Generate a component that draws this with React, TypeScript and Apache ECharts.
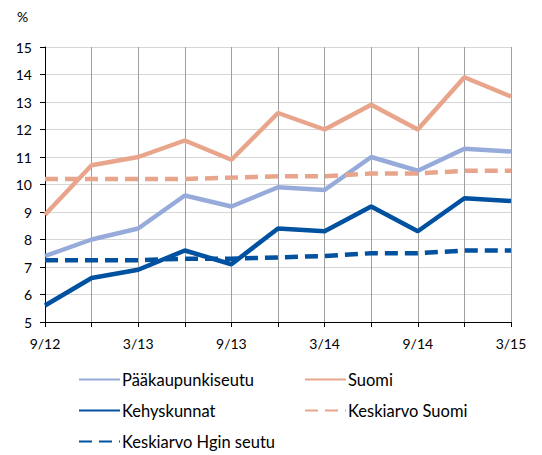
import React, { useEffect, useRef } from "react";
import * as echarts from "echarts";

const categories = ["9/12", "12/12", "3/13", "6/13", "9/13", "12/13", "3/14", "6/14", "9/14", "12/14", "3/15"];
const paakaupunkiseutu = [7.4, 8.0, 8.4, 9.6, 9.2, 9.9, 9.8, 11.0, 10.5, 11.3, 11.2];
const suomi = [8.9, 10.7, 11.0, 11.6, 10.9, 12.6, 12.0, 12.9, 12.0, 13.9, 13.2];
const kehyskunnat = [5.6, 6.6, 6.9, 7.6, 7.1, 8.4, 8.3, 9.2, 8.3, 9.5, 9.4];
const keskiarvoSuomi = [10.2, 10.2, 10.2, 10.2, 10.25, 10.3, 10.3, 10.4, 10.4, 10.5, 10.5];
const keskiarvoHgin = [7.25, 7.25, 7.25, 7.3, 7.3, 7.35, 7.4, 7.5, 7.5, 7.6, 7.6];

const LIGHT_BLUE = "#97abdb";
const SALMON = "#e8a58b";
const DARK_BLUE = "#0051a0";
const FONT = "Lato, 'Open Sans', sans-serif";

export default function App() {
  const ref = useRef<HTMLDivElement>(null);
  useEffect(() => {
    if (!ref.current) return;
    const chart = echarts.init(ref.current, undefined, { renderer: "svg" });
    const mk = (name: string, data: number[], color: string, dashed: boolean) => ({
      name,
      type: "line",
      data,
      showSymbol: false,
      symbol: "none",
      lineStyle: { color, width: 4.5, type: dashed ? [13, 7] : "solid", cap: "butt" },
      itemStyle: { color },
      z: 2,
    });
    const legendCommon = {
      orient: "vertical",
      top: 366,
      height: 95,
      itemWidth: 41,
      itemHeight: 14,
      itemGap: 14,
      itemStyle: { opacity: 0 },
      textStyle: { fontFamily: FONT, fontSize: 16.5, color: "#000", padding: [0, 0, 0, -3] },
    };
    chart.setOption({
      animation: false,
      textStyle: { fontFamily: FONT },
      grid: { left: 45, right: 31, top: 47, bottom: 133, containLabel: false },
      graphic: [
        { type: "text", left: 17, top: 9, style: { text: "%", font: `14px ${FONT}`, fill: "#000" } },
      ],
      legend: [
        { ...legendCommon, left: 73, data: ["Pääkaupunkiseutu", "Kehyskunnat", "Keskiarvo Hgin seutu"] },
        { ...legendCommon, left: 299, data: ["Suomi", "Keskiarvo Suomi"] },
      ],
      xAxis: {
        type: "category",
        data: categories,
        boundaryGap: false,
        axisLine: { show: true, lineStyle: { color: "#000", width: 1 } },
        axisTick: { show: true, interval: 0, length: 5, lineStyle: { color: "#000" } },
        axisLabel: { interval: 1, margin: 14, fontSize: 14, color: "#000", fontFamily: FONT },
        splitLine: { show: true, interval: 0, lineStyle: { color: "#a0a0a0", width: 1 } },
      },
      yAxis: {
        type: "value",
        min: 5,
        max: 15,
        interval: 1,
        axisLine: { show: true, lineStyle: { color: "#000", width: 1 } },
        axisTick: { show: true, length: 5, lineStyle: { color: "#000" } },
        axisLabel: { margin: 13, fontSize: 14, color: "#000", fontFamily: FONT },
        splitLine: { show: true, lineStyle: { color: "#d6d6d6", width: 1 } },
      },
      series: [
        mk("Pääkaupunkiseutu", paakaupunkiseutu, LIGHT_BLUE, false),
        mk("Suomi", suomi, SALMON, false),
        mk("Kehyskunnat", kehyskunnat, DARK_BLUE, false),
        mk("Keskiarvo Suomi", keskiarvoSuomi, SALMON, true),
        mk("Keskiarvo Hgin seutu", keskiarvoHgin, DARK_BLUE, true),
      ],
    });
    return () => chart.dispose();
  }, []);
  return <div ref={ref} style={{ width: 542, height: 455, position: "absolute", left: 0, top: 0 }} />;
}
